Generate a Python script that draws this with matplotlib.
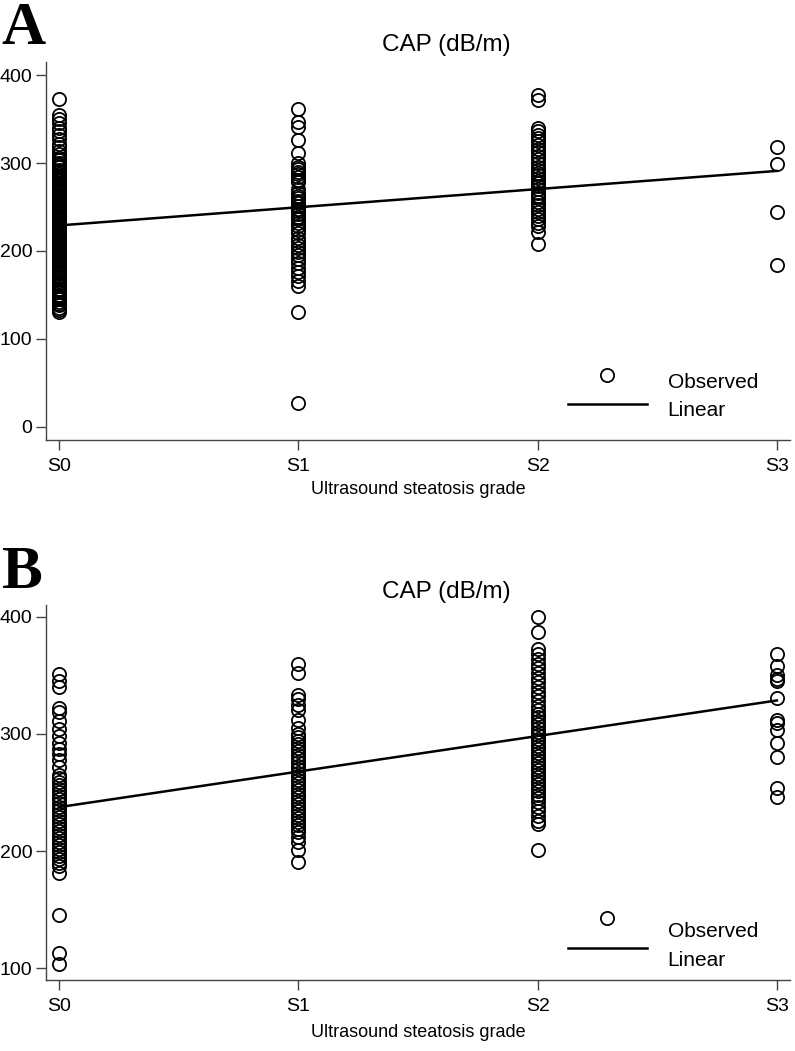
import matplotlib
matplotlib.use("Agg")
import matplotlib.pyplot as plt
import numpy as np

plt.rcParams['font.family'] = ['Liberation Sans', 'DejaVu Sans']

grades = ["S0", "S1", "S2", "S3"]

# Panel A: CAP values by ultrasound grade
A_S0 = [131, 133, 135, 138, 140, 142, 145, 148, 150, 153, 155, 157, 160, 162, 164, 166,
        168, 170, 172, 174, 175, 177, 179, 180, 182, 184, 185, 187, 188, 190, 191, 193,
        195, 196, 198, 200, 201, 203, 204, 206, 208, 209, 210, 212, 213, 215, 216, 218,
        219, 220, 222, 223, 225, 226, 228, 229, 230, 232, 233, 234, 236, 237, 239, 240,
        241, 243, 244, 245, 247, 248, 250, 251, 252, 254, 255, 257, 258, 260, 261, 263,
        264, 266, 268, 269, 271, 273, 275, 277, 279, 281, 283, 285, 288, 290, 292, 295,
        298, 300, 303, 306, 310, 314, 318, 322, 327, 332, 336, 340, 345, 350, 355, 373]
A_S1 = [362, 347, 341, 326, 311, 300, 296, 293, 290, 287, 284, 281, 278, 270, 266, 263,
        260, 257, 254, 251, 248, 245, 242, 239, 236, 232, 228, 224, 220, 215, 211, 207,
        203, 199, 195, 191, 186, 181, 176, 171, 166, 160, 131, 27]
A_S2 = [377, 372, 340, 336, 332, 328, 325, 320, 316, 312, 308, 304, 300, 296, 292, 289,
        286, 283, 280, 277, 274, 270, 266, 263, 260, 256, 252, 248, 244, 240, 236, 232,
        228, 222, 208]
A_S3 = [318, 299, 244, 184]
A_fit = [229, 291]   # linear fit at S0 and S3

# Panel B
B_S0 = [351, 345, 340, 322, 319, 311, 304, 298, 292, 287, 283, 278, 272, 265, 262, 259,
        256, 253, 250, 247, 244, 241, 238, 235, 232, 229, 226, 223, 220, 217, 214, 211,
        208, 205, 202, 199, 196, 193, 190, 187, 181, 145, 113, 104]
B_S1 = [360, 352, 333, 330, 325, 320, 312, 305, 300, 297, 294, 291, 288, 285, 282, 279,
        276, 273, 270, 267, 264, 261, 258, 255, 252, 249, 246, 243, 240, 237, 234, 231,
        228, 225, 222, 219, 216, 212, 208, 201, 191]
B_S2 = [400, 387, 372, 368, 364, 360, 356, 352, 348, 344, 340, 336, 332, 328, 324, 320,
        317, 314, 311, 308, 305, 302, 299, 296, 293, 290, 287, 284, 281, 278, 275, 272,
        269, 266, 263, 260, 257, 254, 251, 248, 245, 242, 238, 234, 230, 226, 223, 201]
B_S3 = [368, 358, 350, 347, 345, 331, 312, 309, 303, 292, 280, 254, 246]
B_fit = [237.5, 328.5]

A_yticks = [0, 100, 200, 300, 400]
B_yticks = [100, 200, 300, 400]

fig = plt.figure(figsize=(7.95, 10.51), dpi=100)

def panel(rect, groups, fit, ylim, yticks, leg):
    ax = fig.add_axes(rect)
    for i, vals in enumerate(groups):
        ax.plot(np.full(len(vals), i), vals, linestyle='none', marker='o',
                markersize=9.5, markerfacecolor='none', markeredgecolor='black',
                markeredgewidth=1.3, clip_on=False)
    ax.plot([0, 3], fit, color='black', lw=1.8)
    ax.set_xlim(-0.055, 3.055)
    ax.set_ylim(*ylim)
    ax.set_xticks(range(4))
    ax.set_xticklabels(grades)
    ax.set_yticks(yticks)
    for s in ['top', 'right']:
        ax.spines[s].set_visible(False)
    for s in ['left', 'bottom']:
        ax.spines[s].set_color('#444444')
        ax.spines[s].set_linewidth(1.0)
    ax.tick_params(direction='out', length=7, width=1.0, color='#444444',
                   labelsize=14, pad=3)
    ax.tick_params(axis='x', pad=6)
    # legend
    cy, ly, oy, liny = leg
    ax.plot([0.754], [cy], transform=ax.transAxes, marker='o', markersize=9.5,
            markerfacecolor='none', markeredgecolor='black', markeredgewidth=1.3,
            linestyle='none')
    ax.plot([0.702, 0.808], [ly, ly], transform=ax.transAxes, color='black', lw=1.8)
    ax.text(0.836, oy, "Observed", transform=ax.transAxes, fontsize=15,
            va='center', ha='left')
    ax.text(0.835, liny, "Linear", transform=ax.transAxes, fontsize=15,
            va='center', ha='left')
    return ax

axA = panel([0.0579, 0.5814, 0.9358, 0.3597], [A_S0, A_S1, A_S2, A_S3], A_fit,
            (-15, 415), A_yticks, (0.172, 0.095, 0.151, 0.079))
axB = panel([0.0579, 0.0676, 0.9358, 0.3568], [B_S0, B_S1, B_S2, B_S3], B_fit,
            (90, 410), B_yticks, (0.165, 0.085, 0.128, 0.053))

fig.text(0.561, 0.957, "CAP (dB/m)", fontsize=17.5, ha='center', va='center')
fig.text(0.561, 0.437, "CAP (dB/m)", fontsize=17.5, ha='center', va='center')
fig.text(0.526, 0.534, "Ultrasound steatosis grade", fontsize=13, ha='center', va='center')
fig.text(0.526, 0.018, "Ultrasound steatosis grade", fontsize=13, ha='center', va='center')

fig.text(0.002, 0.999, "A", fontsize=44, fontweight='bold', ha='left', va='top',
         family=['Liberation Serif', 'DejaVu Serif'])
fig.text(0.002, 0.481, "B", fontsize=44, fontweight='bold', ha='left', va='top',
         family=['Liberation Serif', 'DejaVu Serif'])

fig.savefig("out.png", dpi=100)
